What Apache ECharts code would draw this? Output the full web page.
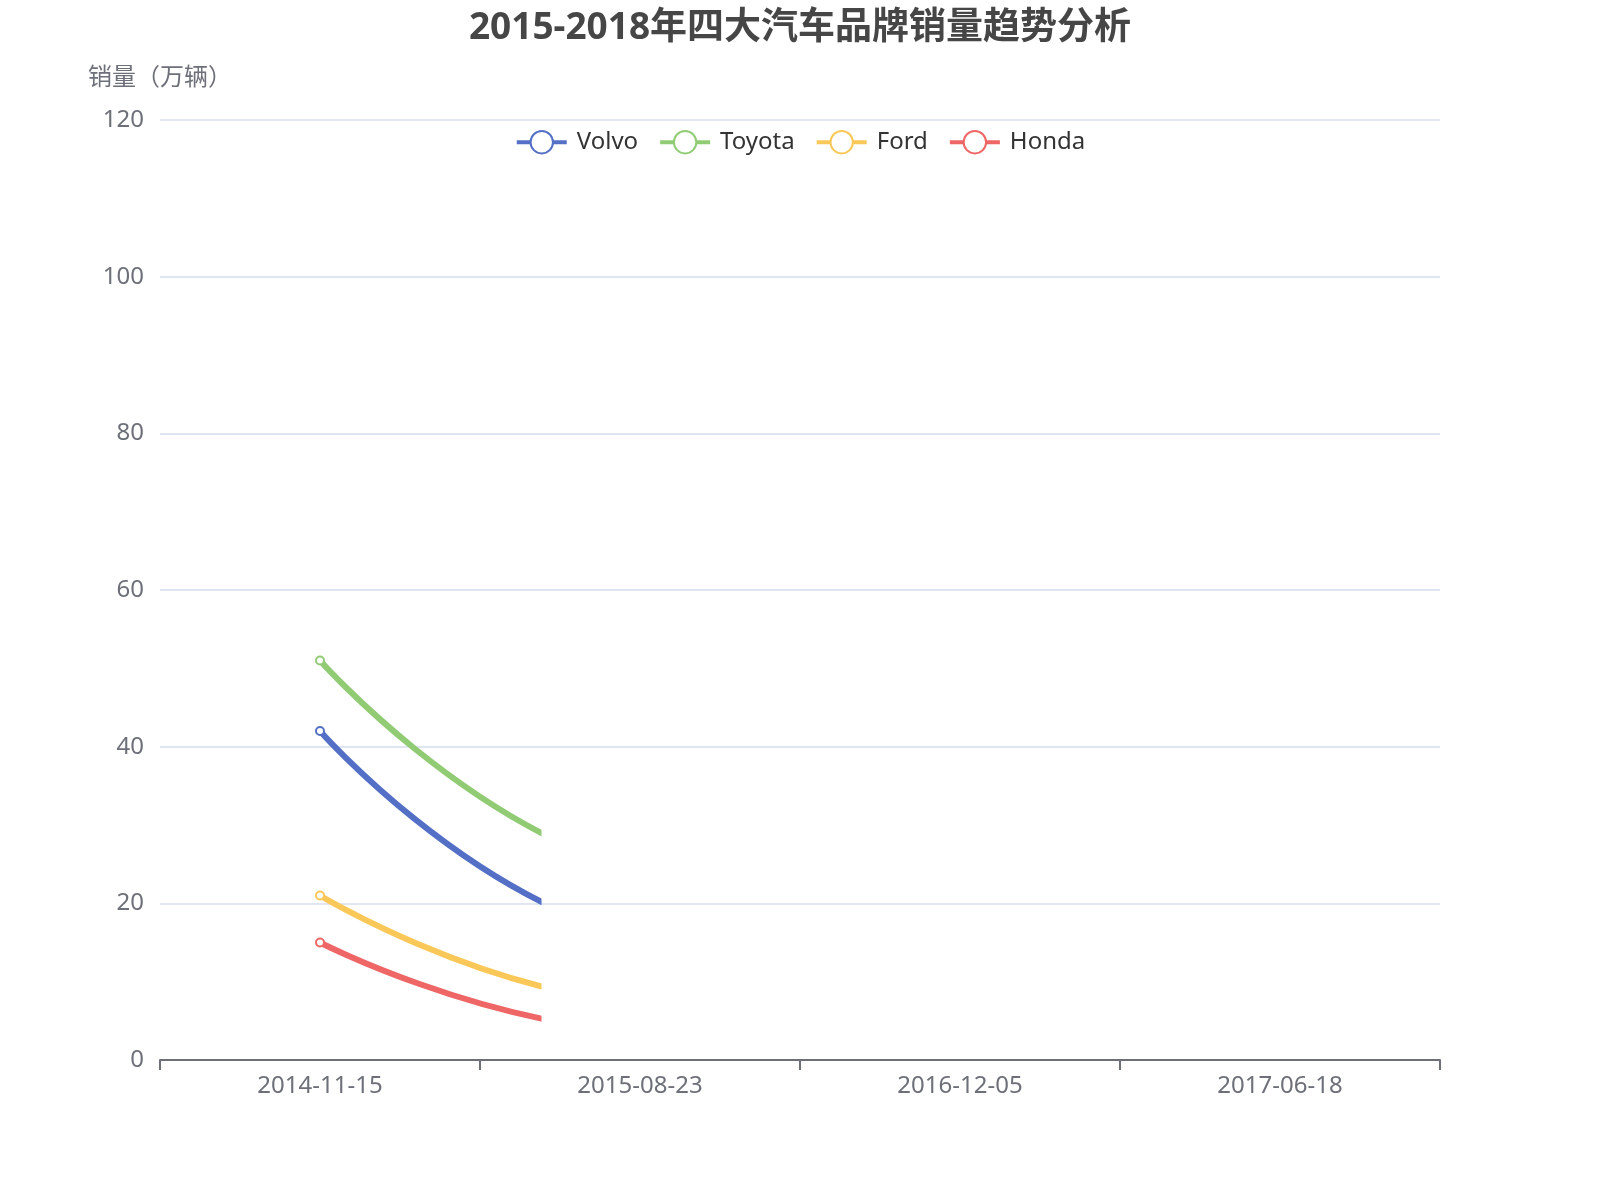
<!DOCTYPE html>
<html>
<head>
<meta charset="utf-8">
<script src="https://cdn.jsdelivr.net/npm/echarts@6/dist/echarts.min.js"></script>
<style>
  html, body { margin: 0; padding: 0; background: #ffffff; }
  #chart { width: 1600px; height: 1200px; }
</style>
</head>
<body>
<div id="chart"></div>
<script>
// ---- data ----
const categories = ['2014-11-15', '2015-08-23', '2016-12-05', '2017-06-18'];
const seriesNames = ['Volvo', 'Toyota', 'Ford', 'Honda'];
const volvo  = [42, 15.5, 11, 9];
const toyota = [51, 24, 19, 16];
const ford   = [21, 7.2, 5.5, 4.5];
const honda  = [15, 3.6, 2.5, 2];
const yMin = 0, yMax = 120, yInterval = 20;
const titleText = '2015-2018年四大汽车品牌销量趋势分析';
const yAxisName = '销量（万辆）';

// ---- style ----
const palette = ['#5470c6', '#91cc75', '#fac858', '#ee6666'];
const FONT = "'Noto Sans', 'Noto Sans CJK SC', sans-serif";
const revealFraction = 0.299; // the reference shows the lines part-way through their intro

const seriesValues = [volvo, toyota, ford, honda];

const chart = echarts.init(document.getElementById('chart'));

const option = {
  color: palette,
  textStyle: { fontFamily: FONT },
  title: {
    text: titleText,
    left: 'center',
    top: 0,
    padding: 10,
    textStyle: { fontSize: 37, fontWeight: 'bold', color: '#464646', fontFamily: FONT }
  },
  legend: {
    top: 120,
    left: 'center',
    padding: 10,
    itemWidth: 50,
    itemHeight: 28,
    itemGap: 20,
    lineStyle: { width: 4 },
    itemStyle: { borderWidth: 4 },
    textStyle: { fontSize: 24, color: '#333', padding: [0, 0, 0, 5], fontFamily: FONT },
    data: seriesNames
  },
  grid: { left: 160, right: 160, top: 120, bottom: 140 },
  xAxis: {
    type: 'category',
    data: categories,
    boundaryGap: true,
    axisLine: { show: true, lineStyle: { color: '#6E7079', width: 2 } },
    axisTick: { show: true, alignWithLabel: false, length: 10, lineStyle: { color: '#6E7079', width: 2 } },
    axisLabel: { fontSize: 24, margin: 14, color: '#6E7079', fontFamily: FONT }
  },
  yAxis: {
    type: 'value',
    min: yMin,
    max: yMax,
    interval: yInterval,
    name: yAxisName,
    nameGap: 30,
    nameTextStyle: { fontSize: 24, color: '#6E7079', fontFamily: FONT },
    axisLabel: { fontSize: 24, margin: 16, color: '#6E7079', fontFamily: FONT },
    splitLine: { lineStyle: { color: '#E0E6F1', width: 2 } }
  },
  series: seriesNames.map((name, i) => ({
    name: name,
    type: 'line',
    smooth: true,
    symbol: 'emptyCircle',
    symbolSize: 8,
    lineStyle: { width: 6 },
    itemStyle: { borderWidth: 4 },
    data: seriesValues[i],
    animationDuration: 1000,
    animationEasing: function () { return revealFraction; },
    animationDelay: function (idx) {
      if (typeof idx === 'number') {
        return idx === 0 ? -5000 : 1e9;
      }
      return 0;
    }
  }))
};

chart.setOption(option);
</script>
</body>
</html>
